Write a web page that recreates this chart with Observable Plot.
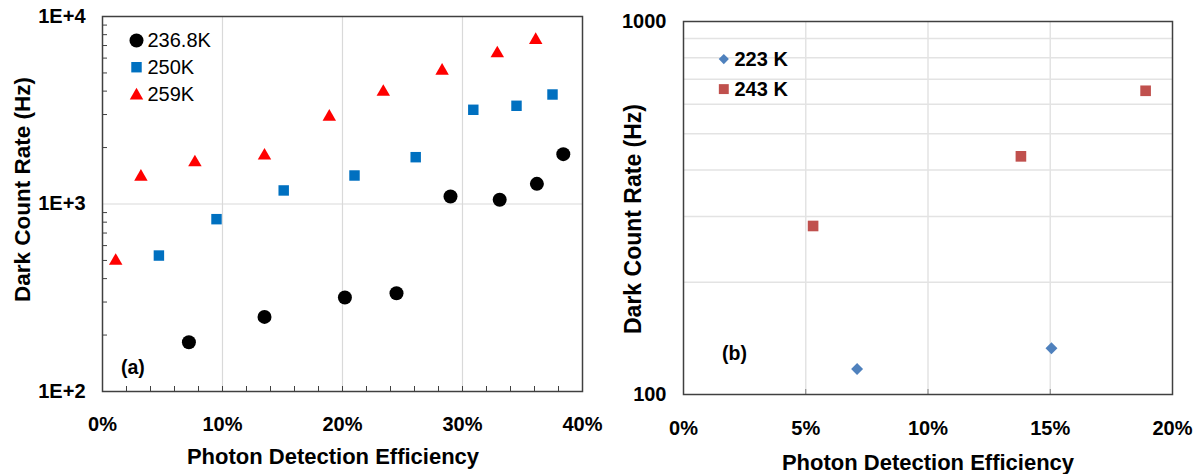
<!DOCTYPE html>
<html>
<head>
<meta charset="utf-8">
<script src="https://cdn.jsdelivr.net/npm/d3@7"></script>
<script src="https://cdn.jsdelivr.net/npm/@observablehq/plot@0.6"></script>
<style>
  html, body { margin: 0; padding: 0; background: #fff; }
  #charts { display: flex; width: 1199px; height: 474px; }
  #charts svg { overflow: visible; }
</style>
</head>
<body>
<div id="charts"></div>
<script>
// Panel (a): dark count rate vs photon detection efficiency at three temperatures
const pde236 = [7.2, 13.5, 20.2, 24.5, 29.0, 33.1, 36.2, 38.4];
const dcr236 = [183, 250, 317, 334, 1096, 1053, 1281, 1844];
const pde250 = [4.7, 9.5, 15.1, 21.0, 26.1, 30.9, 34.5, 37.5];
const dcr250 = [531, 830, 1181, 1419, 1777, 3180, 3340, 3837];
const pde259 = [1.1, 3.2, 7.7, 13.5, 18.9, 23.4, 28.3, 32.9, 36.1];
const dcr259 = [497, 1395, 1665, 1810, 2920, 3960, 5130, 6350, 7480];
const seriesA = ["236.8K", "250K", "259K"];

// Panel (b): two temperatures
const pde223 = [7.1, 15.05];
const dcr223 = [117, 133];
const pde243 = [5.3, 13.8, 18.9];
const dcr243 = [283, 435, 652];
const seriesB = ["223 K", "243 K"];

// Axis ticks
const xTicksA = [0, 10, 20, 30, 40];
const xMinorA = d3.range(2, 40, 2);
const yTicksA = [100, 1000, 10000];
const yMinorA = [200, 300, 400, 500, 600, 700, 800, 900, 2000, 3000, 4000, 5000, 6000, 7000, 8000, 9000];
const xTicksB = [0, 5, 10, 15, 20];
const yTicksB = [100, 1000];
const yGridB = [200, 300, 400, 500, 600, 700, 800, 900];

const xTitle = "Photon Detection Efficiency";
const yTitle = "Dark Count Rate (Hz)";

const zip = (xs, ys) => xs.map((x, i) => ({pde: x, dcr: ys[i]}));
const pct = d => d + "%";
const sci = d => "1E+" + Math.round(Math.log10(d));

const font = "'Liberation Sans', Arial, sans-serif";
const grid = "#d9d9d9";
const axisInk = "#404040";

// a one-line label pinned to a corner of the frame
const label = (s, frameAnchor, dx, dy, extra = {}) =>
  Plot.text([s], {text: d => d, frameAnchor, dx, dy, lineAnchor: "middle", ...extra});

const plotA = Plot.plot({
  width: 600,
  height: 474,
  marginLeft: 102,
  marginRight: 18,
  marginTop: 16,
  marginBottom: 83,
  style: {fontFamily: font, fontSize: "20px", fontWeight: "bold", color: "#000", background: "transparent"},
  x: {domain: [0, 40]},
  y: {type: "log", domain: [100, 10000]},
  marks: [
    Plot.ruleX([10, 20, 30], {stroke: grid, strokeWidth: 1.2}),
    Plot.ruleY([1000], {stroke: grid, strokeWidth: 1.2}),
    Plot.axisX(xMinorA, {tickSize: -5, tickFormat: () => "", label: null, stroke: axisInk}),
    Plot.axisY(yMinorA, {tickSize: -5, tickFormat: () => "", label: null, stroke: axisInk}),
    Plot.axisX(xTicksA, {tickSize: 0, tickPadding: 25, tickFormat: pct, label: null}),
    Plot.axisY(yTicksA, {tickSize: 0, tickPadding: 17, tickFormat: sci, label: null}),
    Plot.frame({stroke: axisInk, strokeWidth: 1.5}),
    Plot.dot(zip(pde236, dcr236), {x: "pde", y: "dcr", r: 7, fill: "#000000", symbol: "circle"}),
    Plot.dot(zip(pde250, dcr250), {x: "pde", y: "dcr", r: 5.9, fill: "#0070C0", symbol: "square"}),
    Plot.dot(zip(pde259, dcr259), {x: "pde", y: "dcr", r: 5, fill: "#FF0000", symbol: "triangle"}),
    // legend
    Plot.dot([seriesA[0]], {frameAnchor: "top-left", dx: 34, dy: 24, r: 7, fill: "#000000", symbol: "circle"}),
    Plot.dot([seriesA[1]], {frameAnchor: "top-left", dx: 34, dy: 50.7, r: 5.9, fill: "#0070C0", symbol: "square"}),
    Plot.dot([seriesA[2]], {frameAnchor: "top-left", dx: 34, dy: 79, r: 5, fill: "#FF0000", symbol: "triangle"}),
    label(seriesA[0], "top-left", 45, 24.5, {textAnchor: "start", fontWeight: "normal", fontSize: 20}),
    label(seriesA[1], "top-left", 45, 51, {textAnchor: "start", fontWeight: "normal", fontSize: 20}),
    label(seriesA[2], "top-left", 45, 78, {textAnchor: "start", fontWeight: "normal", fontSize: 20}),
    // panel tag and axis titles
    label("(a)", "bottom-left", 18.5, -24, {textAnchor: "start", fontSize: 19.5}),
    label(xTitle, "bottom", -9.5, 65, {textAnchor: "middle", fontSize: 22}),
    label(yTitle, "left", -80, -14.5, {textAnchor: "middle", rotate: -90, fontSize: 22.5})
  ]
});

const plotB = Plot.plot({
  width: 599,
  height: 474,
  marginLeft: 83,
  marginRight: 27,
  marginTop: 21,
  marginBottom: 80,
  style: {fontFamily: font, fontSize: "20px", fontWeight: "bold", color: "#000", background: "transparent"},
  x: {domain: [0, 20]},
  y: {type: "log", domain: [100, 1000]},
  marks: [
    Plot.ruleX([5, 10, 15], {stroke: "#e3e3e3", strokeWidth: 1.5}),
    Plot.ruleY(yGridB, {stroke: "#e3e3e3", strokeWidth: 1.5}),
    Plot.axisX([5, 10, 15], {tickSize: -5, tickFormat: () => "", label: null, stroke: "#808080"}),
    Plot.axisX(xTicksB, {tickSize: 0, tickPadding: 26, tickFormat: pct, label: null}),
    Plot.axisY(yTicksB, {tickSize: 0, tickPadding: 17, tickFormat: d => String(d), label: null}),
    Plot.frame({stroke: axisInk, strokeWidth: 1.5}),
    Plot.dot(zip(pde223, dcr223), {x: "pde", y: "dcr", r: 5.4, fill: "#4F81BD", symbol: "diamond2"}),
    Plot.dot(zip(pde243, dcr243), {x: "pde", y: "dcr", r: 6, fill: "#C0504D", symbol: "square"}),
    // legend
    Plot.dot([seriesB[0]], {frameAnchor: "top-left", dx: 40.3, dy: 37.6, r: 4.6, fill: "#4F81BD", symbol: "diamond2"}),
    Plot.dot([seriesB[1]], {frameAnchor: "top-left", dx: 40.3, dy: 67.6, r: 5.6, fill: "#C0504D", symbol: "square"}),
    label(seriesB[0], "top-left", 51, 37.6, {textAnchor: "start", fontSize: 20}),
    label(seriesB[1], "top-left", 51, 67.6, {textAnchor: "start", fontSize: 20}),
    // panel tag and axis titles
    label("(b)", "bottom-left", 38.5, -40.5, {textAnchor: "start", fontSize: 19.5}),
    label(xTitle, "bottom", 0, 68, {textAnchor: "middle", fontSize: 22}),
    label(yTitle, "left", -50, 11, {textAnchor: "middle", rotate: -90, fontSize: 23})
  ]
});

document.getElementById("charts").append(plotA, plotB);
</script>
</body>
</html>
